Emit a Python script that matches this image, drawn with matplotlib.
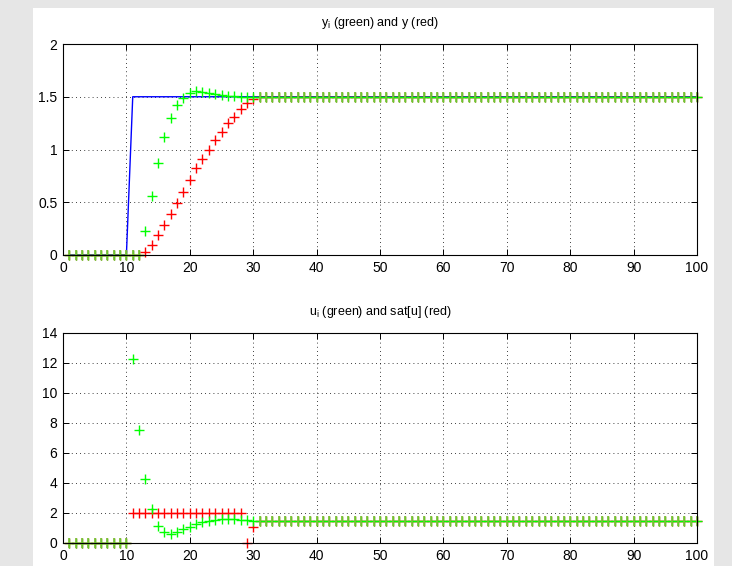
import numpy as np
import matplotlib
matplotlib.use("Agg")
import matplotlib.pyplot as plt
from matplotlib.patches import Rectangle

plt.rcParams['font.family'] = ['Liberation Sans', 'DejaVu Sans']
plt.rcParams['mathtext.fontset'] = 'custom'
plt.rcParams['mathtext.rm'] = 'Liberation Sans'
plt.rcParams['mathtext.it'] = 'Liberation Sans'

# time steps
k = list(range(1, 101))

# top panel: reference (blue), y_i (green), y (red)
y_ref = [0.0] * 10 + [1.5] * 90
y_i = [0.0] * 12 + [0.23, 0.56, 0.87, 1.12, 1.30, 1.42, 1.49, 1.54, 1.55,
                    1.545, 1.535, 1.525, 1.515, 1.51, 1.505] + [1.5] * 73
y_out = [0.0] * 12 + [0.026, 0.096, 0.186, 0.28, 0.385, 0.49, 0.60, 0.71, 0.82,
                      0.91, 1.0, 1.09, 1.17, 1.25, 1.31, 1.38, 1.44, 1.48] + [1.5] * 70

# bottom panel: u_i (green), sat[u] (red)
u_i = [0.0] * 10 + [12.29, 7.56, 4.27, 2.27, 1.16, 0.76, 0.60, 0.76, 0.93, 1.07,
                    1.24, 1.38, 1.49, 1.56, 1.58, 1.58, 1.57, 1.56, 1.55] + [1.5] * 71
u_sat = [0.0] * 10 + [2.0] * 18 + [0.0, 1.1] + [1.5] * 70

x_ticks = list(range(0, 101, 10))
top_yticks = [0, 0.5, 1, 1.5, 2]
top_ylabels = ['0', '0.5', '1', '1.5', '2']
bot_yticks = list(range(0, 15, 2))

GREEN = '#00ff00'
RED = '#ff0000'
OLIVE = '#7fbf3a'

fig = plt.figure(figsize=(7.32, 5.66), dpi=100)
fig.patch.set_facecolor('#e6e6e6')
# white panel behind the axes
fig.add_artist(Rectangle((33 / 732, 0), (714 - 33) / 732, 1 - 8 / 566,
                         transform=fig.transFigure, facecolor='white',
                         edgecolor='none', zorder=-10))

ax1 = fig.add_axes([63 / 732, 1 - 255 / 566, 634 / 732, 211 / 566])
ax2 = fig.add_axes([63 / 732, 1 - 543 / 566, 634 / 732, 210 / 566])


def style(ax):
    ax.set_xlim(0, 100)
    ax.set_xticks(x_ticks)
    ax.grid(True, color='black', linestyle=(0, (1, 4)), linewidth=0.6)
    ax.tick_params(direction='in', top=True, right=True, length=4, width=0.7,
                   labelsize=10, pad=4)
    for s in ax.spines.values():
        s.set_linewidth(0.8)
    ax.set_axisbelow(True)


def marks(ax, green, red):
    g = np.array(green)
    r = np.array(red)
    ax.plot(k, r, linestyle='none', marker='+', color=RED, markersize=6.5, mew=1.0,
            clip_on=False)
    ax.plot(k, g, linestyle='none', marker='+', color=GREEN, markersize=6.5, mew=1.0,
            clip_on=False)
    # where both series sit on top of each other the crosses look olive
    both = np.abs(g - r) < 0.01
    ax.plot(np.array(k)[both], g[both], linestyle='none', marker='|', color=OLIVE,
            markersize=6.5, mew=1.2, clip_on=False)


style(ax1)
ax1.plot(k, y_ref, color='#0000ff', linewidth=1.0)
marks(ax1, y_i, y_out)
ax1.set_ylim(0, 2)
ax1.set_yticks(top_yticks)
ax1.set_yticklabels(top_ylabels)
ax1.set_title(r'y$_{\rm i}$ (green) and y (red)', fontsize=9, pad=13)

style(ax2)
marks(ax2, u_i, u_sat)
ax2.set_ylim(0, 14)
ax2.set_yticks(bot_yticks)
ax2.set_title(r'u$_{\rm i}$ (green) and sat[u] (red)', fontsize=9, pad=13)

fig.savefig('out.png', dpi=100, facecolor=fig.get_facecolor())
